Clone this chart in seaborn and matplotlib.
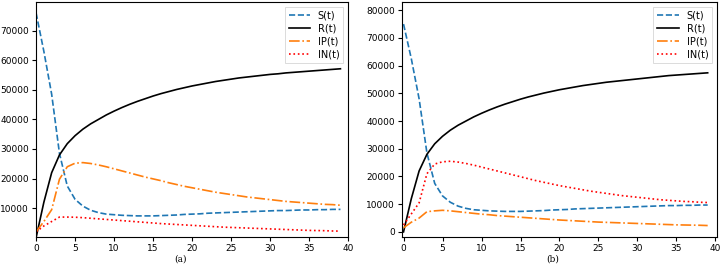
import numpy as np
import pandas as pd
import matplotlib
matplotlib.use("Agg")
import matplotlib.pyplot as plt
import seaborn as sns

t = list(range(40))

S_a = [76000, 63000, 48500, 28500, 17500, 13000, 10700, 9300, 8500, 8000,
       7800, 7600, 7500, 7400, 7400, 7400, 7500, 7600, 7700, 7900,
       8000, 8100, 8300, 8400, 8500, 8600, 8700, 8800, 8900, 9000,
       9100, 9200, 9200, 9300, 9400, 9400, 9500, 9500, 9600, 9600]
R_a = [0, 12000, 22000, 28000, 31800, 34500, 36700, 38500, 40000, 41500,
       42800, 44000, 45100, 46100, 47000, 47900, 48700, 49400, 50100, 50700,
       51300, 51800, 52300, 52800, 53200, 53600, 54000, 54300, 54600, 54900,
       55200, 55400, 55700, 55900, 56100, 56300, 56500, 56700, 56900, 57100]
IP_a = [2000, 5500, 9500, 19800, 24000, 25200, 25400, 25100, 24600, 24000,
        23300, 22600, 21900, 21200, 20500, 19900, 19300, 18600, 18000, 17400,
        16900, 16400, 15900, 15400, 15000, 14600, 14200, 13800, 13500, 13200,
        12900, 12600, 12300, 12100, 11900, 11700, 11500, 11300, 11200, 11000]
IN_a = [2000, 4000, 5500, 7000, 7000, 6950, 6800, 6600, 6400, 6200,
        6000, 5800, 5600, 5400, 5200, 5000, 4800, 4650, 4500, 4350,
        4200, 4050, 3900, 3750, 3600, 3500, 3400, 3300, 3200, 3100,
        3000, 2900, 2800, 2700, 2600, 2500, 2450, 2400, 2300, 2250]

S_b = [75000, 62500, 48000, 28500, 17500, 13000, 10700, 9300, 8500, 8000,
       7800, 7600, 7500, 7400, 7400, 7400, 7500, 7600, 7700, 7900,
       8000, 8100, 8300, 8400, 8500, 8600, 8700, 8800, 8900, 9000,
       9100, 9200, 9300, 9400, 9500, 9500, 9600, 9600, 9700, 9700]
R_b = [0, 12000, 22000, 28000, 31800, 34500, 36700, 38500, 40000, 41500,
       42800, 44000, 45100, 46100, 47000, 47900, 48700, 49400, 50100, 50700,
       51300, 51800, 52300, 52800, 53200, 53600, 54000, 54300, 54600, 54900,
       55200, 55500, 55800, 56100, 56400, 56600, 56800, 57000, 57200, 57400]
IP_b = [1500, 3500, 5000, 7300, 7600, 7800, 7600, 7300, 7000, 6700,
        6400, 6200, 5900, 5700, 5500, 5300, 5100, 4900, 4700, 4500,
        4300, 4150, 4000, 3850, 3700, 3550, 3450, 3350, 3250, 3150,
        3050, 2950, 2850, 2750, 2650, 2550, 2500, 2450, 2400, 2300]
IN_b = [2500, 6500, 10500, 21000, 24500, 25300, 25500, 25200, 24700, 24100,
        23400, 22700, 22000, 21300, 20600, 19900, 19200, 18500, 17900, 17300,
        16700, 16200, 15700, 15200, 14700, 14300, 13900, 13500, 13100, 12800,
        12500, 12200, 11900, 11600, 11400, 11200, 11000, 10900, 10700, 10600]

labels = ["S(t)", "R(t)", "IP(t)", "IN(t)"]
captions = ["(a)", "(b)"]

styles = {
    "S(t)": dict(color="#1f77b4", ls="--"),
    "R(t)": dict(color="black", ls="-"),
    "IP(t)": dict(color="#ff7f0e", ls="-."),
    "IN(t)": dict(color="red", ls=":"),
}

fig = plt.figure(figsize=(7.21, 2.68), dpi=100)
ax_a = fig.add_axes([0.050, 0.116, 0.433, 0.877])
ax_b = fig.add_axes([0.5575, 0.116, 0.437, 0.877])

panels = [
    (ax_a, [S_a, R_a, IP_a, IN_a], (300, 79700), (0, 40)),
    (ax_b, [S_b, R_b, IP_b, IN_b], (-1800, 83000), (-0.2, 40.2)),
]

for (ax, series, ylim, xlim), cap in zip(panels, captions):
    for lab, vals in zip(labels, series):
        df = pd.DataFrame({"t": t, "v": vals})
        sns.lineplot(data=df, x="t", y="v", ax=ax, label=lab,
                     color=styles[lab]["color"], linestyle=styles[lab]["ls"],
                     linewidth=1.2)
    ax.set_xlim(*xlim)
    ax.set_ylim(*ylim)
    ax.set_xticks(range(0, 41, 5))
    ax.set_xlabel("")
    ax.set_ylabel("")
    ax.tick_params(labelsize=6.5, length=3, width=0.8, pad=2)
    for sp in ax.spines.values():
        sp.set_linewidth(0.8)
    leg = ax.legend(loc="upper right", fontsize=7, handlelength=2.2,
                    borderpad=0.4, labelspacing=0.3, fancybox=False)
    leg.get_frame().set_linewidth(0.6)

ax_b.set_yticks(range(0, 80001, 10000))
ax_a.set_yticks(range(10000, 70001, 10000))

fig.text(0.25, 0.015, "(a)", ha="center", va="bottom", fontsize=6.5, family="DejaVu Serif")
fig.text(0.767, 0.015, "(b)", ha="center", va="bottom", fontsize=6.5, family="DejaVu Serif")

fig.savefig("out.png", dpi=100)
